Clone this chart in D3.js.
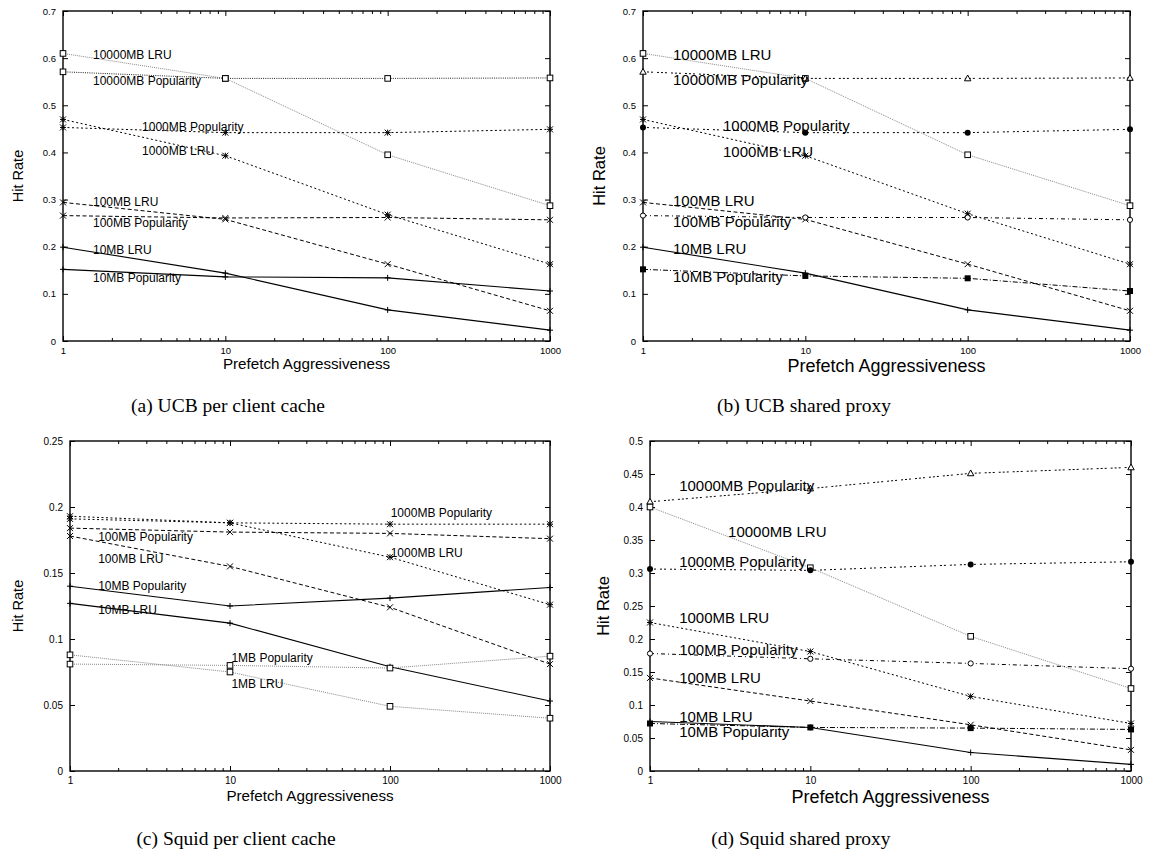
<!DOCTYPE html>
<html>
<head>
<meta charset="utf-8">
<script src="https://cdn.jsdelivr.net/npm/d3@7"></script>
<style>
  body { margin: 0; background: #fff; }
  svg { display: block; }
</style>
</head>
<body>
<svg id="chart" width="1152" height="850"></svg>
<script>
// ---- shared axis values ----
const aggressiveness = [1, 10, 100, 1000];
const xTickValues = [1, 10, 100, 1000];
const yTicksUCB = [0, 0.1, 0.2, 0.3, 0.4, 0.5, 0.6, 0.7];
const yTicksSquidClient = [0, 0.05, 0.1, 0.15, 0.2, 0.25];
const yTicksSquidProxy = [0, 0.05, 0.1, 0.15, 0.2, 0.25, 0.3, 0.35, 0.4, 0.45, 0.5];

// ---- (a) UCB trace, per client cache ----
const ucbClient10MBLRU      = [0.199, 0.144, 0.066, 0.023];
const ucbClient10MBPop      = [0.152, 0.136, 0.134, 0.106];
const ucbClient100MBLRU     = [0.294, 0.258, 0.163, 0.064];
const ucbClient100MBPop     = [0.266, 0.261, 0.262, 0.257];
const ucbClient1000MBLRU    = [0.470, 0.393, 0.268, 0.163];
const ucbClient1000MBPop    = [0.453, 0.442, 0.442, 0.449];
const ucbClient10000MBLRU   = [0.610, 0.557, 0.395, 0.287];
const ucbClient10000MBPop   = [0.571, 0.557, 0.557, 0.558];

// ---- (b) UCB trace, shared proxy ----
const ucbProxy10MBLRU       = [0.199, 0.144, 0.066, 0.023];
const ucbProxy10MBPop       = [0.152, 0.138, 0.133, 0.106];
const ucbProxy100MBLRU      = [0.294, 0.258, 0.163, 0.064];
const ucbProxy100MBPop      = [0.266, 0.262, 0.262, 0.257];
const ucbProxy1000MBLRU     = [0.470, 0.393, 0.270, 0.163];
const ucbProxy1000MBPop     = [0.453, 0.442, 0.442, 0.449];
const ucbProxy10000MBLRU    = [0.610, 0.557, 0.395, 0.287];
const ucbProxy10000MBPop    = [0.571, 0.557, 0.557, 0.558];

// ---- (c) Squid trace, per client cache ----
const squidClient1MBLRU     = [0.088, 0.075, 0.049, 0.040];
const squidClient1MBPop     = [0.081, 0.080, 0.078, 0.087];
const squidClient10MBLRU    = [0.127, 0.112, 0.079, 0.053];
const squidClient10MBPop    = [0.140, 0.125, 0.131, 0.139];
const squidClient100MBLRU   = [0.178, 0.155, 0.124, 0.081];
const squidClient100MBPop   = [0.184, 0.181, 0.180, 0.176];
const squidClient1000MBLRU  = [0.191, 0.188, 0.162, 0.126];
const squidClient1000MBPop  = [0.193, 0.188, 0.187, 0.187];

// ---- (d) Squid trace, shared proxy ----
const squidProxy10MBLRU     = [0.075, 0.066, 0.028, 0.010];
const squidProxy10MBPop     = [0.072, 0.066, 0.065, 0.063];
const squidProxy100MBLRU    = [0.141, 0.106, 0.070, 0.032];
const squidProxy100MBPop    = [0.178, 0.170, 0.163, 0.155];
const squidProxy1000MBLRU   = [0.225, 0.181, 0.113, 0.072];
const squidProxy1000MBPop   = [0.306, 0.304, 0.313, 0.317];
const squidProxy10000MBLRU  = [0.400, 0.308, 0.204, 0.125];
const squidProxy10000MBPop  = [0.408, 0.428, 0.451, 0.460];

// ---- line and point styles (gnuplot-like monochrome) ----
const lineStyles = {
  solid:    { dash: null,              color: "#000", width: 1.1 },
  dashed:   { dash: "4,2.5",           color: "#000", width: 1 },
  short:    { dash: "2,2.5",           color: "#000", width: 1 },
  dotted:   { dash: "1,1.2",           color: "#222", width: 1 },
  fine:     { dash: "1,1",             color: "#888", width: 1 },
  dotdash:  { dash: "5,2,1,2",         color: "#000", width: 1 },
  dotdash2: { dash: "4,3,1,3",         color: "#000", width: 1 },
  dash2:    { dash: "2,2,2,4",         color: "#000", width: 1 },
  dash3:    { dash: "2,2,2,2,2,4",     color: "#000", width: 1 }
};

function seriesOf(values, name, line, marker, labelAt) {
  return { values, name, line, marker, labelAt };
}

const panels = [
  {
    box: { left: 63, right: 550, top: 11, bottom: 341 },
    yMax: 0.7, yTicks: yTicksUCB, tickFont: 9.5, labelFont: 12, hitFont: 14.5, xTitleFont: 15.2,
    hitX: 18, xTitleY: 369, caption: "(a) UCB per client cache", captionX: 228, captionY: 412,
    series: [
      seriesOf(ucbClient10000MBLRU, "10000MB LRU", "fine", "square", [1.53, 0.607]),
      seriesOf(ucbClient10000MBPop, "10000MB Popularity", "dotted", "square", [1.53, 0.552]),
      seriesOf(ucbClient1000MBPop, "1000MB Popularity", "short", "star", [3.07, 0.455]),
      seriesOf(ucbClient1000MBLRU, "1000MB LRU", "short", "star", [3.07, 0.404]),
      seriesOf(ucbClient100MBLRU, "100MB LRU", "dashed", "cross", [1.53, 0.295]),
      seriesOf(ucbClient100MBPop, "100MB Popularity", "dashed", "cross", [1.53, 0.251]),
      seriesOf(ucbClient10MBLRU, "10MB LRU", "solid", "plus", [1.53, 0.194]),
      seriesOf(ucbClient10MBPop, "10MB Popularity", "solid", "plus", [1.53, 0.134])
    ]
  },
  {
    box: { left: 643, right: 1130, top: 11, bottom: 341 },
    yMax: 0.7, yTicks: yTicksUCB, tickFont: 9.5, labelFont: 15, hitFont: 16.5, xTitleFont: 18,
    hitX: 599, xTitleY: 372, caption: "(b) UCB shared proxy", captionX: 804, captionY: 412,
    series: [
      seriesOf(ucbProxy10000MBLRU, "10000MB LRU", "fine", "square", [1.53, 0.608]),
      seriesOf(ucbProxy10000MBPop, "10000MB Popularity", "dash3", "triangle", [1.53, 0.555]),
      seriesOf(ucbProxy1000MBPop, "1000MB Popularity", "dash2", "filledCircle", [3.11, 0.457]),
      seriesOf(ucbProxy1000MBLRU, "1000MB LRU", "short", "star", [3.11, 0.402]),
      seriesOf(ucbProxy100MBLRU, "100MB LRU", "dashed", "cross", [1.53, 0.298]),
      seriesOf(ucbProxy100MBPop, "100MB Popularity", "dotdash2", "circle", [1.53, 0.253]),
      seriesOf(ucbProxy10MBLRU, "10MB LRU", "solid", "plus", [1.53, 0.196]),
      seriesOf(ucbProxy10MBPop, "10MB Popularity", "dotdash", "filledSquare", [1.53, 0.137])
    ]
  },
  {
    box: { left: 70, right: 550, top: 441, bottom: 771 },
    yMax: 0.25, yTicks: yTicksSquidClient, tickFont: 10, labelFont: 12, hitFont: 14.5, xTitleFont: 15.2,
    hitX: 18, xTitleY: 801, caption: "(c) Squid per client cache", captionX: 236, captionY: 845,
    series: [
      seriesOf(squidClient1000MBPop, "1000MB Popularity", "short", "star", [101, 0.1957]),
      seriesOf(squidClient1000MBLRU, "1000MB LRU", "short", "star", [101, 0.1654]),
      seriesOf(squidClient100MBPop, "100MB Popularity", "dashed", "cross", [1.5, 0.1775]),
      seriesOf(squidClient100MBLRU, "100MB LRU", "dashed", "cross", [1.5, 0.1608]),
      seriesOf(squidClient10MBPop, "10MB Popularity", "solid", "plus", [1.5, 0.1404]),
      seriesOf(squidClient10MBLRU, "10MB LRU", "solid", "plus", [1.5, 0.1222]),
      seriesOf(squidClient1MBPop, "1MB Popularity", "fine", "square", [10.2, 0.0858]),
      seriesOf(squidClient1MBLRU, "1MB LRU", "fine", "square", [10.2, 0.0661])
    ]
  },
  {
    box: { left: 650, right: 1131, top: 441, bottom: 771 },
    yMax: 0.5, yTicks: yTicksSquidProxy, tickFont: 10, labelFont: 15, hitFont: 16.5, xTitleFont: 18,
    hitX: 603, xTitleY: 803, caption: "(d) Squid shared proxy", captionX: 801, captionY: 845,
    series: [
      seriesOf(squidProxy10000MBPop, "10000MB Popularity", "dash3", "triangle", [1.52, 0.4324]),
      seriesOf(squidProxy10000MBLRU, "10000MB LRU", "fine", "square", [3.07, 0.3627]),
      seriesOf(squidProxy1000MBPop, "1000MB Popularity", "dash2", "filledCircle", [1.52, 0.317]),
      seriesOf(squidProxy1000MBLRU, "1000MB LRU", "short", "star", [1.52, 0.232]),
      seriesOf(squidProxy100MBPop, "100MB Popularity", "dotdash2", "circle", [1.52, 0.184]),
      seriesOf(squidProxy100MBLRU, "100MB LRU", "dashed", "cross", [1.52, 0.1415]),
      seriesOf(squidProxy10MBLRU, "10MB LRU", "solid", "plus", [1.52, 0.083]),
      seriesOf(squidProxy10MBPop, "10MB Popularity", "dotdash", "filledSquare", [1.52, 0.060])
    ]
  }
];

const sans = "'Liberation Sans', Arial, Helvetica, sans-serif";
const serif = "'Liberation Serif', 'DejaVu Serif', serif";
const svg = d3.select("#chart");

// minor log ticks between decades: 2..9 x 10^k
const minorTicks = d3.range(0, 3).flatMap(k => d3.range(2, 10).map(m => m * Math.pow(10, k)));

function drawMarker(g, type, cx, cy) {
  const s = 3;
  const common = sel => sel.attr("stroke", "#000").attr("stroke-width", 1);
  switch (type) {
    case "plus":
      common(g.append("path").attr("d", `M${cx - s},${cy}H${cx + s}M${cx},${cy - s}V${cy + s}`));
      break;
    case "cross":
      common(g.append("path").attr("d", `M${cx - s},${cy - s}L${cx + s},${cy + s}M${cx - s},${cy + s}L${cx + s},${cy - s}`));
      break;
    case "star":
      common(g.append("path").attr("d",
        `M${cx - s},${cy}H${cx + s}M${cx},${cy - s}V${cy + s}M${cx - s},${cy - s}L${cx + s},${cy + s}M${cx - s},${cy + s}L${cx + s},${cy - s}`));
      break;
    case "square":
      common(g.append("rect").attr("x", cx - 2.8).attr("y", cy - 2.8).attr("width", 5.6).attr("height", 5.6).attr("fill", "#fff"));
      break;
    case "filledSquare":
      g.append("rect").attr("x", cx - 3).attr("y", cy - 3).attr("width", 6).attr("height", 6).attr("fill", "#000");
      break;
    case "circle":
      common(g.append("circle").attr("cx", cx).attr("cy", cy).attr("r", 2.6).attr("fill", "#fff"));
      break;
    case "filledCircle":
      g.append("circle").attr("cx", cx).attr("cy", cy).attr("r", 3).attr("fill", "#000");
      break;
    case "triangle":
      common(g.append("path").attr("d", `M${cx},${cy - 3.4}L${cx + 3.2},${cy + 2.4}L${cx - 3.2},${cy + 2.4}Z`).attr("fill", "#fff"));
      break;
  }
}

panels.forEach(p => {
  const { left, right, top, bottom } = p.box;
  const x = d3.scaleLog().domain([1, 1000]).range([left, right]);
  const y = d3.scaleLinear().domain([0, p.yMax]).range([bottom, top]);
  const g = svg.append("g");
  const fmt = d3.format("~g");

  // axes: inward ticks on all four sides
  const styleAxis = sel => {
    sel.select(".domain").remove();
    sel.selectAll("line").attr("stroke", "#000").attr("stroke-width", 1);
    sel.selectAll("text").attr("font-family", sans).attr("font-size", p.tickFont).attr("fill", "#000");
  };
  g.append("g").attr("transform", `translate(${left},0)`)
    .call(d3.axisLeft(y).tickValues(p.yTicks).tickFormat(fmt).tickSize(-5).tickPadding(7))
    .call(styleAxis);
  g.append("g").attr("transform", `translate(${right},0)`)
    .call(d3.axisRight(y).tickValues(p.yTicks).tickFormat("").tickSize(-5))
    .call(styleAxis);
  g.append("g").attr("transform", `translate(0,${bottom})`)
    .call(d3.axisBottom(x).tickValues(xTickValues).tickFormat(d3.format("d")).tickSize(-5).tickPadding(6))
    .call(styleAxis);
  g.append("g").attr("transform", `translate(0,${bottom})`)
    .call(d3.axisBottom(x).tickValues(minorTicks).tickFormat("").tickSize(-3))
    .call(styleAxis);
  g.append("g").attr("transform", `translate(0,${top})`)
    .call(d3.axisTop(x).tickValues(xTickValues).tickFormat("").tickSize(-5))
    .call(styleAxis);
  g.append("g").attr("transform", `translate(0,${top})`)
    .call(d3.axisTop(x).tickValues(minorTicks).tickFormat("").tickSize(-3))
    .call(styleAxis);

  // frame
  g.append("rect").attr("x", left).attr("y", top).attr("width", right - left).attr("height", bottom - top)
    .attr("fill", "none").attr("stroke", "#000").attr("stroke-width", 1.4);

  // series lines and points
  const line = d3.line().x(d => x(d[0])).y(d => y(d[1]));
  p.series.forEach(s => {
    const pts = aggressiveness.map((a, i) => [a, s.values[i]]);
    const st = lineStyles[s.line];
    g.append("path").datum(pts).attr("d", line)
      .attr("fill", "none").attr("stroke", st.color).attr("stroke-width", st.width)
      .attr("stroke-dasharray", st.dash);
    const mg = g.append("g");
    pts.forEach(d => drawMarker(mg, s.marker, x(d[0]), y(d[1])));
  });

  // series labels
  p.series.forEach(s => {
    g.append("text")
      .attr("x", x(s.labelAt[0])).attr("y", y(s.labelAt[1]))
      .attr("dominant-baseline", "central")
      .attr("font-family", sans).attr("font-size", p.labelFont).attr("fill", "#000")
      .text(s.name);
  });

  // axis titles
  g.append("text")
    .attr("transform", `translate(${p.hitX},${(top + bottom) / 2}) rotate(-90)`)
    .attr("text-anchor", "middle").attr("dominant-baseline", "central")
    .attr("font-family", sans).attr("font-size", p.hitFont).attr("fill", "#000")
    .text("Hit Rate");
  g.append("text")
    .attr("x", (left + right) / 2).attr("y", p.xTitleY)
    .attr("text-anchor", "middle")
    .attr("font-family", sans).attr("font-size", p.xTitleFont).attr("fill", "#000")
    .text("Prefetch Aggressiveness");

  // caption
  svg.append("text")
    .attr("x", p.captionX).attr("y", p.captionY)
    .attr("text-anchor", "middle")
    .attr("font-family", serif).attr("font-size", 19.5).attr("fill", "#000")
    .text(p.caption);
});
</script>
</body>
</html>
